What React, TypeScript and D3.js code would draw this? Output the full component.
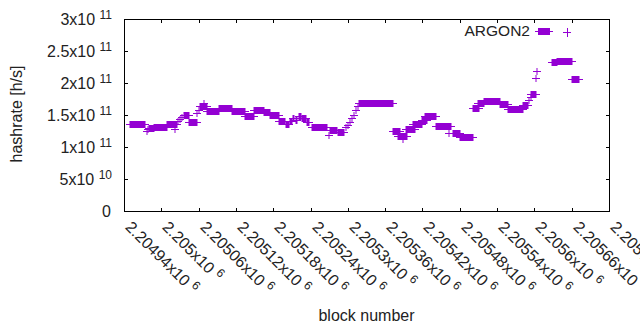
import { useEffect, useRef } from 'react';
import * as d3 from 'd3';

// runs of consecutive blocks with the same hashrate (value in units of 1e11 h/s)
const runStart = [
  2204949, 2204977, 2204979, 2204980, 2204988, 2205009, 2205022, 2205027, 2205030, 2205033,
  2205036, 2205045, 2205058, 2205060, 2205062, 2205068, 2205074, 2205093, 2205114, 2205135,
  2205149, 2205165, 2205175, 2205189, 2205201, 2205207, 2205212, 2205216, 2205221, 2205227,
  2205234, 2205242, 2205270, 2205271, 2205284, 2205297, 2205300, 2205303, 2205307, 2205310,
  2205313, 2205316, 2205318, 2205373, 2205381, 2205388, 2205393, 2205405, 2205419, 2205424,
  2205442, 2205462, 2205469, 2205480, 2205501, 2205509, 2205519, 2205545, 2205558, 2205582,
  2205591, 2205594, 2205595, 2205603, 2205604, 2205628, 2205636, 2205660,
];
const runEnd = [
  2204974, 2204977, 2204979, 2204988, 2205009, 2205025, 2205022, 2205027, 2205030, 2205033,
  2205044, 2205057, 2205058, 2205060, 2205073, 2205068, 2205093, 2205114, 2205135, 2205149,
  2205165, 2205175, 2205189, 2205199, 2205205, 2205210, 2205214, 2205219, 2205225, 2205232,
  2205238, 2205266, 2205270, 2205283, 2205294, 2205297, 2205300, 2205303, 2205307, 2205310,
  2205313, 2205316, 2205373, 2205384, 2205395, 2205388, 2205408, 2205419, 2205427, 2205442,
  2205466, 2205462, 2205480, 2205501, 2205511, 2205519, 2205545, 2205558, 2205582, 2205590,
  2205591, 2205594, 2205603, 2205603, 2205604, 2205636, 2205660, 2205672,
];
const runValue = [
  1.355, 1.245, 1.28, 1.30, 1.32, 1.355, 1.28, 1.40, 1.44, 1.47,
  1.50, 1.39, 1.53, 1.58, 1.645, 1.69, 1.56, 1.615, 1.56, 1.48,
  1.58, 1.54, 1.50, 1.41, 1.36, 1.40, 1.46, 1.42, 1.49, 1.45,
  1.39, 1.31, 1.18, 1.27, 1.24, 1.31, 1.34, 1.39, 1.45, 1.50,
  1.58, 1.64, 1.685, 1.25, 1.17, 1.125, 1.28, 1.36, 1.42, 1.49,
  1.33, 1.22, 1.22, 1.15, 1.61, 1.69, 1.72, 1.67, 1.59, 1.66,
  1.74, 1.78, 1.83, 2.08, 2.19, 2.33, 2.34, 2.07,
];

const xTickLabels = [
  '2.20494', '2.205', '2.20506', '2.20512', '2.20518', '2.20524', '2.2053',
  '2.20536', '2.20542', '2.20548', '2.20554', '2.2056', '2.20566', '2.20572',
];
const yTickValues = [0, 5e10, 1e11, 1.5e11, 2e11, 2.5e11, 3e11];
const yTickMantissa = ['0', '5', '1', '1.5', '2', '2.5', '3'];
const yTickExponent = ['', '10', '11', '11', '11', '11', '11'];

const seriesName = 'ARGON2';
const color = '#9400d3';
const font = '"Liberation Sans", Arial, sans-serif';

const App = () => {
  const svgRef = useRef<SVGSVGElement>(null);

  useEffect(() => {
    const width = 640;
    const height = 330;
    const margin = { top: 19, right: 31, bottom: 119, left: 124 };

    const svg = d3.select(svgRef.current);
    svg.selectAll('*').remove();
    svg.attr('width', width).attr('height', height);

    const xScale = d3.scaleLinear()
      .domain([2204940, 2205720])
      .range([margin.left, width - margin.right]);
    const yScale = d3.scaleLinear()
      .domain([0, 3e11])
      .range([height - margin.bottom, margin.top]);

    const x0 = margin.left, x1 = width - margin.right;
    const y0 = height - margin.bottom, y1 = margin.top;
    const tick = 4;

    // data: each block drawn as a "+" point, runs merge into boxes
    const runs = runStart.map((s, i) => ({ s, e: runEnd[i], v: runValue[i] * 1e11 }));
    const g = svg.append('g');
    runs.forEach(d => {
      const xa = Math.round(xScale(d.s));
      const xb = Math.round(xScale(d.e));
      const yc = Math.round(yScale(d.v)) + 0.5;
      g.append('rect')
        .attr('x', xa - 0.5).attr('width', xb - xa + 1)
        .attr('y', yc - 3.5).attr('height', 7)
        .attr('fill', color);
      g.append('line')
        .attr('x1', xa - 4).attr('x2', xb + 4)
        .attr('y1', yc).attr('y2', yc)
        .attr('stroke', color).attr('stroke-width', 1);
    });

    // border
    svg.append('rect')
      .attr('x', x0 + 0.5).attr('y', y1 + 0.5)
      .attr('width', x1 - x0).attr('height', y0 - y1)
      .attr('fill', 'none').attr('stroke', 'black').attr('stroke-width', 1);

    // y ticks + labels
    yTickValues.forEach((v, i) => {
      const y = Math.round(yScale(v)) + 0.5;
      svg.append('line').attr('x1', x0).attr('x2', x0 + tick).attr('y1', y).attr('y2', y)
        .attr('stroke', 'black');
      svg.append('line').attr('x1', x1 - tick + 1).attr('x2', x1 + 1).attr('y1', y).attr('y2', y)
        .attr('stroke', 'black');
      const t = svg.append('text')
        .attr('x', 112).attr('y', y + 5)
        .attr('text-anchor', 'end')
        .attr('font-family', font).attr('font-size', 16).attr('fill', '#222');
      if (yTickExponent[i]) {
        t.append('tspan').text(yTickMantissa[i] + 'x10 ');
        t.append('tspan').attr('font-size', 12).attr('dy', -6).text(yTickExponent[i]);
      } else {
        t.attr('x', 111).text(yTickMantissa[i]);
      }
    });

    // x ticks + rotated labels
    xTickLabels.forEach(lbl => {
      const x = Math.round(xScale(+lbl * 1e6)) + 0.5;
      svg.append('line').attr('x1', x).attr('x2', x).attr('y1', y0).attr('y2', y0 - tick + 1)
        .attr('stroke', 'black');
      svg.append('line').attr('x1', x).attr('x2', x).attr('y1', y1 + 1).attr('y2', y1 + tick)
        .attr('stroke', 'black');
      const t = svg.append('text')
        .attr('transform', `translate(${x},228) rotate(45)`)
        .attr('font-family', font).attr('font-size', 16).attr('fill', '#222');
      t.append('tspan').text(lbl + 'x10 ');
      t.append('tspan').attr('font-size', 12).attr('dy', -6).text('6');
    });

    // axis titles
    svg.append('text')
      .attr('x', (x0 + x1) / 2).attr('y', 321)
      .attr('text-anchor', 'middle')
      .attr('font-family', font).attr('font-size', 16).attr('fill', '#222')
      .text('block number');
    svg.append('text')
      .attr('transform', `translate(22,114) rotate(-90)`)
      .attr('text-anchor', 'middle')
      .attr('font-family', font).attr('font-size', 16).attr('fill', '#222')
      .text('hashrate [h/s]');

    // legend
    svg.append('text')
      .attr('x', 530).attr('y', 36)
      .attr('text-anchor', 'end')
      .attr('font-family', font).attr('font-size', 15.5).attr('fill', '#222')
      .text(seriesName);
    svg.append('line').attr('x1', 535).attr('x2', 553).attr('y1', 31.5).attr('y2', 31.5)
      .attr('stroke', color);
    svg.append('rect').attr('x', 538).attr('y', 28).attr('width', 12).attr('height', 7)
      .attr('fill', color);
    svg.append('line').attr('x1', 563).attr('x2', 571).attr('y1', 32.5).attr('y2', 32.5)
      .attr('stroke', color);
    svg.append('line').attr('x1', 567.5).attr('x2', 567.5).attr('y1', 28).attr('y2', 37)
      .attr('stroke', color);
  }, []);

  return (
    <svg ref={svgRef} style={{ position: 'absolute', left: 0, top: 0 }}></svg>
  );
};

export default App;
